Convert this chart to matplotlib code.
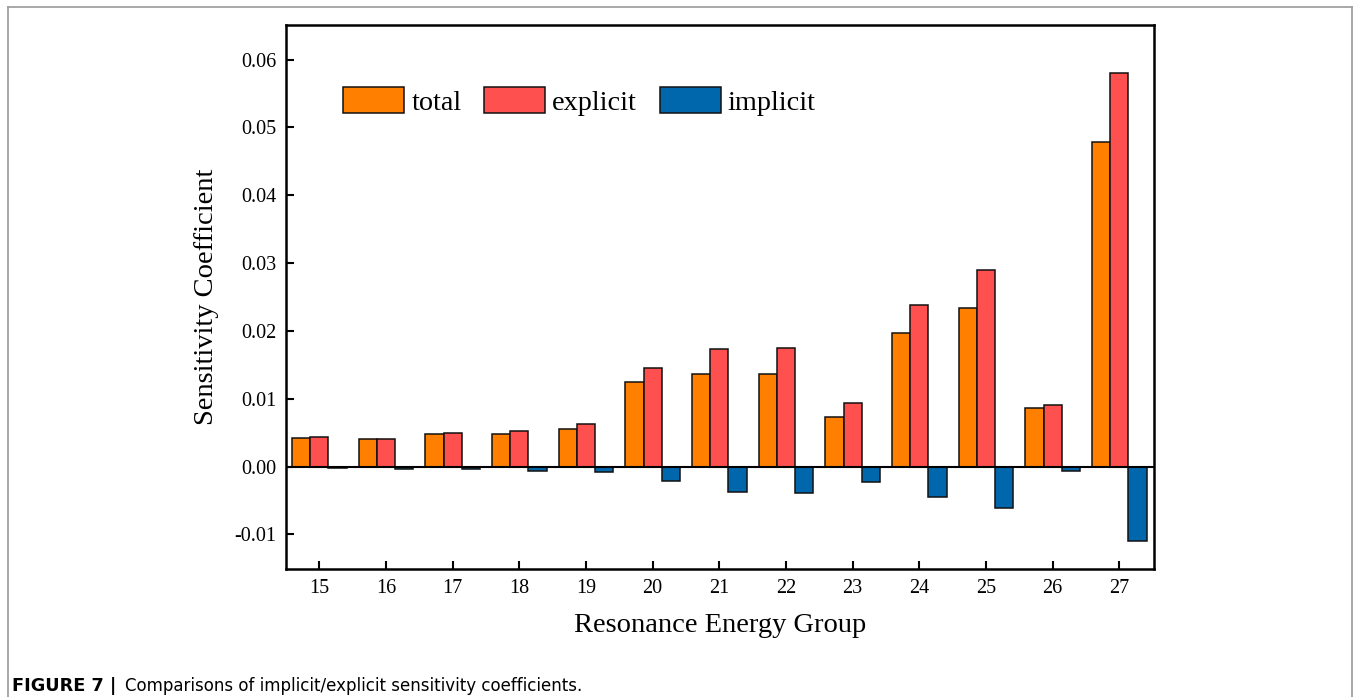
import matplotlib
matplotlib.use("Agg")
import matplotlib.pyplot as plt
import numpy as np
from matplotlib.ticker import FuncFormatter, FixedLocator
from matplotlib.lines import Line2D

groups = [15, 16, 17, 18, 19, 20, 21, 22, 23, 24, 25, 26, 27]
total = [0.0042, 0.0040, 0.0048, 0.0048, 0.0056, 0.0125, 0.0137, 0.0137, 0.0073, 0.0197, 0.0234, 0.0086, 0.0478]
explicit = [0.0043, 0.0041, 0.0050, 0.0052, 0.0063, 0.0145, 0.0174, 0.0175, 0.0093, 0.0238, 0.0290, 0.0091, 0.0580]
implicit = [-0.0002, -0.0003, -0.0004, -0.0006, -0.0008, -0.0021, -0.0037, -0.0039, -0.0023, -0.0045, -0.0061, -0.0007, -0.0109]
series_names = ["total", "explicit", "implicit"]
colors = ["#FF7F00", "#FF5050", "#0067AC"]
yticks = [-0.01, 0.0, 0.01, 0.02, 0.03, 0.04, 0.05, 0.06]

fig = plt.figure(figsize=(13.56, 6.97), dpi=100)
ax = fig.add_axes([286/1356, 1-569/697, (1154-286)/1356, (569-25)/697])

x = np.array(groups, dtype=float)
w = 0.273
for i, (vals, name, c) in enumerate(zip([total, explicit, implicit], series_names, colors)):
    ax.bar(x + (i - 1) * w, vals, width=w, color=c, edgecolor="#111111", linewidth=1.1, label=name, zorder=2)

ax.axhline(0, color="black", linewidth=1.5, zorder=3)
ax.set_xlim(14.5, 27.52)
ax.set_ylim(-0.0151, 0.0651)
ax.yaxis.set_major_locator(FixedLocator(yticks))
ax.yaxis.set_major_formatter(FuncFormatter(lambda v, p: "{:.2f}".format(v + 0.0)))
ax.set_xticks(groups)
ax.set_xticklabels([str(g) for g in groups])

serif = ["Liberation Serif", "DejaVu Serif"]
for lab in ax.get_xticklabels() + ax.get_yticklabels():
    lab.set_fontfamily(serif)
    lab.set_fontsize(14.5)
ax.tick_params(direction="in", length=6, width=1.5, pad=7)
for s in ax.spines.values():
    s.set_linewidth(1.8)

ax.set_xlabel("Resonance Energy Group", fontsize=20.5, family=serif, labelpad=11)
ax.set_ylabel("Sensitivity Coefficient", fontsize=20.5, family=serif, labelpad=11)

leg = ax.legend(loc="center left", bbox_to_anchor=(0.0657, 0.860), ncol=3, frameon=False,
                prop={"family": serif, "size": 20.3}, handlelength=2.17, handleheight=1.08,
                handletextpad=0.25, columnspacing=0.8, borderpad=0, borderaxespad=0)

# figure border (gray)
for (xs, ys) in [([8/1356, 1352/1356], [1-7/697, 1-7/697]),
                 ([8/1356, 8/1356], [0, 1-7/697]),
                 ([1352/1356, 1352/1356], [0, 1-7/697])]:
    fig.add_artist(Line2D(xs, ys, transform=fig.transFigure, color="#9a9a9a", linewidth=1.2))

fig.text(12/1356, 1-686/697, "FIGURE 7 |", fontsize=12.8, fontweight="bold",
         family=["DejaVu Sans"], va="center", ha="left")
fig.text(125/1356, 1-686/697, "Comparisons of implicit/explicit sensitivity coefficients.", fontsize=12,
         family=["DejaVu Sans"], va="center", ha="left")

fig.savefig("out.png", dpi=100)
